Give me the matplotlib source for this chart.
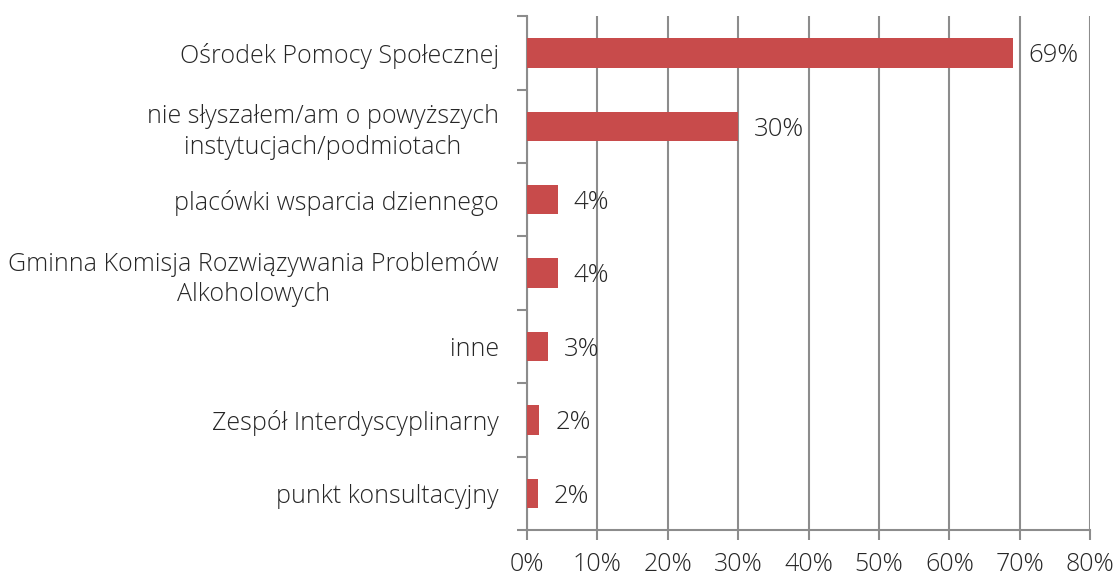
import matplotlib
matplotlib.use("Agg")
import matplotlib.pyplot as plt
import numpy as np
from matplotlib.ticker import FixedLocator, PercentFormatter

categories = [
    "Ośrodek Pomocy Społecznej",
    "nie słyszałem/am o powyższych\ninstytucjach/podmiotach",
    "placówki wsparcia dziennego",
    "Gminna Komisja Rozwiązywania Problemów\nAlkoholowych",
    "inne",
    "Zespół Interdyscyplinarny",
    "punkt konsultacyjny",
]
values = [69, 30, 4.4, 4.4, 3.0, 1.8, 1.6]
labels = ["69%", "30%", "4%", "4%", "3%", "2%", "2%"]
xticks = [0, 10, 20, 30, 40, 50, 60, 70, 80]

plt.rcParams['font.family'] = ['Open Sans', 'DejaVu Sans']
text_color = "#262626"
grid_color = "#8C8C8C"
bar_color = "#C84B4B"

fig = plt.figure(figsize=(11.16, 5.8), dpi=100)
ax = fig.add_axes([0.472, 0.086, 0.505, 0.886])

n = len(categories)
y = np.arange(n)
ax.barh(y, values, height=0.4, color=bar_color, zorder=3)
for yi, v, lab in zip(y, values, labels):
    ax.annotate(lab, (v, yi), xytext=(11.5, -2), textcoords="offset points",
                ha="left", va="center", fontsize=18.5, color=text_color,
                fontweight="light", zorder=4)

ax.set_ylim(n - 0.5, -0.5)
ax.set_xlim(0, 80)
ax.set_xticks(xticks)
ax.xaxis.set_major_formatter(PercentFormatter(decimals=0))
ax.set_yticks(y)
ax.set_yticklabels(categories, multialignment="center", linespacing=1.3)
ax.yaxis.set_minor_locator(FixedLocator(np.arange(n + 1) - 0.5))
ax.tick_params(axis="y", which="major", length=0, pad=20, labelsize=18, labelcolor=text_color)
ax.tick_params(axis="y", which="minor", length=7, width=1.5, color=grid_color)
ax.tick_params(axis="x", which="major", length=7, width=1.5, color=grid_color, pad=9,
               labelsize=18, labelcolor=text_color)
for t in ax.get_xticklabels() + ax.get_yticklabels():
    t.set_fontweight("light")

ax.grid(axis="x", color=grid_color, linewidth=1.5, zorder=0)
for s in ["top", "right"]:
    ax.spines[s].set_visible(False)
for s in ["left", "bottom"]:
    ax.spines[s].set_color(grid_color)
    ax.spines[s].set_linewidth(1.5)

fig.savefig("out.png", dpi=100, facecolor="white")
